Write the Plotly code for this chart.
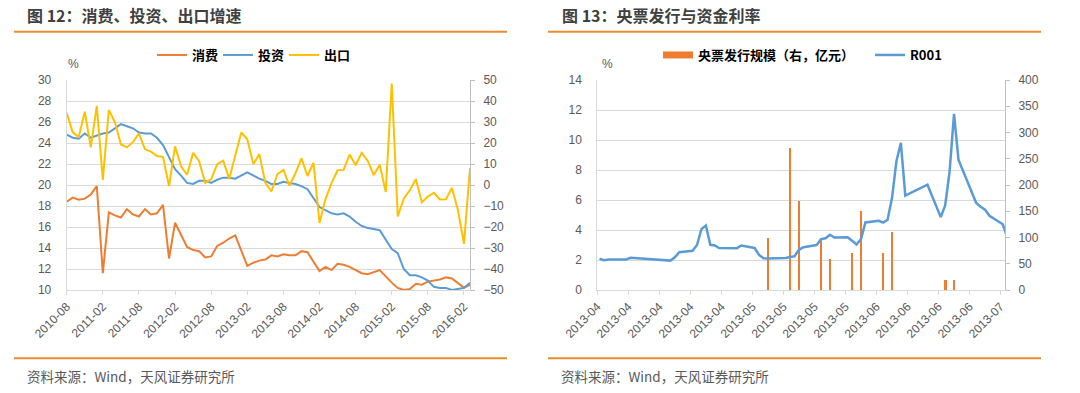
import plotly.graph_objects as go
import pandas as pd

# ---------------- Left chart data (monthly, 2010-08 .. 2016-03) ----------------
months = [p.strftime("%Y-%m") for p in pd.period_range("2010-08", "2016-03", freq="M")]
tick_months = months[::6]

consumption = [18.4, 18.8, 18.6, 18.7, 19.1,
               19.9, 11.6, 17.4, 17.1, 16.9, 17.7, 17.2, 17.0, 17.7, 17.2, 17.3, 18.1,
               13.0, 16.4, 15.2, 14.1, 13.8, 13.7, 13.1, 13.2, 14.2, 14.5, 14.9, 15.2,
               None, 12.3, 12.6, 12.8, 12.9, 13.3, 13.2, 13.4, 13.3, 13.3, 13.7, 13.6,
               None, 11.8, 12.2, 11.9, 12.5, 12.4, 12.2, 11.9, 11.6, 11.5, 11.7, 11.9,
               None, 10.7, 10.2, 10.0, 10.1, 10.6, 10.5, 10.8, 10.9, 11.0, 11.2, 11.1,
               None, 10.2, 10.5]

investment = [24.8, 24.5, 24.4, 24.9, 24.5,
              None, 24.9, 25.0, 25.4, 25.8, 25.6, 25.4, 25.0, 24.9, 24.9, 24.5, 23.8,
              None, 21.5, 20.9, 20.2, 20.1, 20.4, 20.4, 20.2, 20.5, 20.7, 20.7, 20.6,
              None, 21.2, 20.9, 20.6, 20.4, 20.1, 20.1, 20.3, 20.2, 20.1, 19.9, 19.6,
              None, 17.9, 17.6, 17.3, 17.2, 17.3, 17.0, 16.5, 16.1, 15.9, 15.8, 15.7,
              None, 13.9, 13.5, 12.0, 11.4, 11.4, 11.2, 10.9, 10.3, 10.2, 10.2, 10.0,
              None, 10.2, 10.7]

exports = [34.4, 25.1, 22.9, 34.9, 17.9,
           37.7, 2.4, 35.8, 29.9, 19.4, 17.9, 20.4, 24.5, 17.1, 15.9, 13.8, 13.4,
           -0.5, 18.4, 8.9, 4.9, 15.3, 11.3, 1.0, 2.7, 9.9, 11.6, 2.9, 14.1,
           25.0, 21.8, 10.0, 14.7, 1.0, -3.1, 5.1, 7.2, -0.3, 5.6, 12.7, 4.3,
           10.6, -18.1, -6.6, 0.9, 7.0, 7.2, 14.5, 9.4, 15.3, 11.6, 4.7, 9.7,
           -3.3, 48.3, -15.0, -6.4, -2.5, 2.8, -8.3, -5.5, -3.7, -6.9, -6.8, -1.4,
           -12.0, -28.0, 8.0]

# ---------------- Right chart data (daily, 2013-04 .. 2013-07) ----------------
r001_dates = ["2013-04-01", "2013-04-02", "2013-04-03", "2013-04-07", "2013-04-08",
              "2013-04-09", "2013-04-10", "2013-04-11", "2013-04-12", "2013-04-15",
              "2013-04-16", "2013-04-17", "2013-04-18", "2013-04-19", "2013-04-22",
              "2013-04-23", "2013-04-24", "2013-04-25", "2013-04-26", "2013-04-27",
              "2013-04-28", "2013-05-02", "2013-05-03", "2013-05-06", "2013-05-07",
              "2013-05-08", "2013-05-09", "2013-05-10", "2013-05-13", "2013-05-14",
              "2013-05-15", "2013-05-16", "2013-05-17", "2013-05-20", "2013-05-21",
              "2013-05-22", "2013-05-23", "2013-05-24", "2013-05-27", "2013-05-28",
              "2013-05-29", "2013-05-30", "2013-05-31", "2013-06-03", "2013-06-04",
              "2013-06-05", "2013-06-06", "2013-06-07", "2013-06-08", "2013-06-09",
              "2013-06-13", "2013-06-14", "2013-06-17", "2013-06-18", "2013-06-19",
              "2013-06-20", "2013-06-21", "2013-06-24", "2013-06-25", "2013-06-26",
              "2013-06-27", "2013-06-28", "2013-07-01", "2013-07-02"]
r001_values = [2.08, 1.98, 2.03, 2.04, 2.15,
               2.13, 2.10, 2.05, 2.02, 2.01,
               1.97, 1.96, 2.18, 2.52, 2.62,
               3.00, 4.06, 4.30, 3.01, 2.97,
               2.80, 2.79, 2.97, 2.80, 2.34,
               2.12, 2.10, 2.10, 2.14, 2.20,
               2.25, 2.68, 2.85, 3.00, 3.39,
               3.45, 3.68, 3.50, 3.52, 3.28,
               3.03, 3.39, 4.50, 4.61, 4.50,
               4.68, 6.13, 8.58, 9.81, 6.29,
               6.85, 7.02, 4.86, 5.64, 7.91,
               11.75, 8.69, 6.60, 5.80, 5.55,
               5.35, 4.95, 4.38, 3.50]

bill_dates = ["2013-05-09", "2013-05-14", "2013-05-16", "2013-05-21", "2013-05-23",
              "2013-05-28", "2013-05-30", "2013-06-04", "2013-06-06", "2013-06-18",
              "2013-06-20"]
bill_values = [100, 270, 170, 95, 60, 70, 150, 70, 110, 20, 20]

# ---------------- Styling ----------------
W, H = 1080, 393
ORANGE = "#ED7D31"
BLUE = "#5B9BD5"
GOLD = "#FFC000"
RULE = "#EE8A2E"
GRID = "#D9D9D9"
AXIS = "#BFBFBF"
TXT = "#595959"
CJK = "Noto Sans CJK SC"
NUM = "Liberation Sans, Arial, sans-serif"
DAY_MS = 86400000


def px(x):
    return x / W


def py(y):
    return 1 - y / H


fig = go.Figure()

# left chart traces
fig.add_trace(go.Scatter(x=months, y=consumption, name="消费", mode="lines",
                         line=dict(color=ORANGE, width=2), connectgaps=True,
                         xaxis="x", yaxis="y", legend="legend"))
fig.add_trace(go.Scatter(x=months, y=investment, name="投资", mode="lines",
                         line=dict(color=BLUE, width=2), connectgaps=True,
                         xaxis="x", yaxis="y", legend="legend"))
fig.add_trace(go.Scatter(x=months, y=exports, name="出口", mode="lines",
                         line=dict(color=GOLD, width=2), connectgaps=True,
                         xaxis="x", yaxis="y2", legend="legend"))

# right chart traces
fig.add_trace(go.Bar(x=bill_dates, y=bill_values, name="央票发行规模（右，亿元）",
                     marker=dict(color=ORANGE, line=dict(width=0)),
                     width=0.6 * DAY_MS, xperiod=DAY_MS, xperiodalignment="middle",
                     showlegend=False, xaxis="x2", yaxis="y3"))
fig.add_trace(go.Scatter(x=[None], y=[None], name="央票发行规模（右，亿元）", mode="lines",
                         line=dict(color=ORANGE, width=7), legend="legend2",
                         legendwidth=167, xaxis="x2", yaxis="y3"))
fig.add_trace(go.Scatter(x=r001_dates, y=r001_values, name="R001", mode="lines",
                         line=dict(color=BLUE, width=2.5),
                         xperiod=DAY_MS, xperiodalignment="middle",
                         legend="legend2", xaxis="x2", yaxis="y4"))

tickfont = dict(family=NUM, size=12, color=TXT)
ydom = [py(290), py(80)]

fig.update_layout(
    width=W, height=H, autosize=False,
    margin=dict(l=0, r=0, t=0, b=0, pad=0, autoexpand=False),
    paper_bgcolor="white", plot_bgcolor="white",
    bargap=0, hovermode=False,
    xaxis=dict(domain=[px(66.7), px(470)], anchor="y", type="category",
               range=[0, len(months) - 1], tickmode="array",
               tickvals=tick_months, ticktext=tick_months, tickangle=-45,
               tickfont=tickfont, showgrid=False, showline=True, linecolor=GRID,
               ticks="outside", ticklen=4, tickcolor=GRID, zeroline=False,
               automargin=False),
    yaxis=dict(domain=ydom, anchor="x", range=[10, 30], dtick=2, side="left",
               showgrid=True, gridcolor=GRID, showline=True, linecolor=GRID,
               tickfont=tickfont, ticks="", ticklabelstandoff=12, zeroline=False,
               automargin=False),
    yaxis2=dict(overlaying="y", anchor="x", side="right", range=[-50, 50], dtick=10,
                showgrid=False, showline=True, linecolor=AXIS, ticks="outside",
                ticklen=4, tickcolor=AXIS, tickfont=tickfont, ticklabelstandoff=6,
                zeroline=False, automargin=False),
    xaxis2=dict(domain=[px(597.3), px(1005)], anchor="y3", type="date",
                range=["2013-04-01", "2013-07-02"], tick0="2013-04-01",
                dtick=7 * DAY_MS, tickformat="%Y-%m", tickangle=-45,
                tickfont=tickfont, showgrid=False, showline=True, linecolor=GRID,
                ticks="outside", ticklen=4, tickcolor=GRID, zeroline=False,
                automargin=False),
    yaxis3=dict(domain=ydom, anchor="x2", side="right", range=[0, 400], dtick=50,
                showgrid=False, showline=True, linecolor=AXIS, ticks="outside",
                ticklen=4, tickcolor=AXIS, tickfont=tickfont, ticklabelstandoff=6,
                zeroline=False, automargin=False),
    yaxis4=dict(overlaying="y3", anchor="x2", side="left", range=[0, 14], dtick=2,
                showgrid=True, gridcolor=GRID, showline=True, linecolor=GRID,
                tickfont=tickfont, ticks="", ticklabelstandoff=12, zeroline=False,
                automargin=False),
    legend=dict(orientation="h", x=px(152), y=py(55), xanchor="left", yanchor="middle",
                bgcolor="rgba(0,0,0,0)", entrywidth=21, entrywidthmode="pixels",
                font=dict(family=CJK, size=13, color="#000000", weight="bold"),
                itemclick=False, itemdoubleclick=False, tracegroupgap=0),
    legend2=dict(orientation="h", x=px(658), y=py(55), xanchor="left", yanchor="middle",
                 bgcolor="rgba(0,0,0,0)",
                 font=dict(family=CJK, size=13, color="#000000", weight="bold"),
                 itemclick=False, itemdoubleclick=False, tracegroupgap=0),
    showlegend=True,
)

annotations = [
    dict(text="图 12：消费、投资、出口增速", x=px(25), y=py(15), xanchor="left",
         yanchor="middle", font=dict(family=CJK, size=16, color="#404040", weight="bold")),
    dict(text="图 13：央票发行与资金利率", x=px(560), y=py(15), xanchor="left",
         yanchor="middle", font=dict(family=CJK, size=16, color="#404040", weight="bold")),
    dict(text="资料来源：Wind，天风证券研究所", x=px(25), y=py(376), xanchor="left",
         yanchor="middle", font=dict(family=CJK, size=13.5, color=TXT)),
    dict(text="资料来源：Wind，天风证券研究所", x=px(559), y=py(376), xanchor="left",
         yanchor="middle", font=dict(family=CJK, size=13.5, color=TXT)),
    dict(text="%", x=px(73), y=py(64), xanchor="center", yanchor="middle",
         font=dict(family=NUM, size=12, color=TXT)),
    dict(text="%", x=px(607), y=py(64), xanchor="center", yanchor="middle",
         font=dict(family=NUM, size=12, color=TXT)),
]
for a in annotations:
    a.update(xref="paper", yref="paper", showarrow=False)
fig.update_layout(annotations=annotations)

shapes = []
for (x0, x1) in [(14, 507), (548, 1041)]:
    for yy in (31.7, 358.3):
        shapes.append(dict(type="line", xref="paper", yref="paper",
                           x0=px(x0), x1=px(x1), y0=py(yy), y1=py(yy),
                           line=dict(color=RULE, width=2)))
fig.update_layout(shapes=shapes)

fig.write_html("out.html",
               config={"displayModeBar": False, "staticPlot": True},
               post_script="document.body.style.margin='0px';"
                           "document.body.style.overflow='hidden';")
